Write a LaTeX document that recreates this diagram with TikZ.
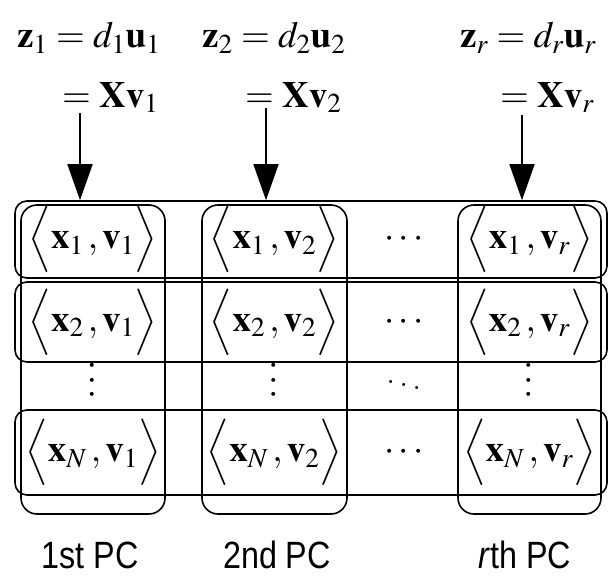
\documentclass[tikz,border=0pt]{standalone}
\usepackage{mathptmx}
\usepackage[no-math]{fontspec}
\usepackage{graphicx}
\usetikzlibrary{arrows.meta, positioning}
\newfontfamily\pcfont{Liberation Sans}
\newcommand{\cellip}[2]{$\left\langle\vphantom{\rule[-17pt]{0pt}{44pt}}\mathbf{x}_{#1}\,,\mathbf{v}_{#2}\right\rangle$}

\begin{document}
\begin{tikzpicture}[
    x=1pt, y=-1pt,
    every node/.style={font=\fontsize{37}{40}\selectfont, inner sep=0pt},
    rowbox/.style={rectangle, draw, line width=1.6pt, rounded corners=12pt,
                   minimum width=592pt},
    colbox/.style={rectangle, draw, line width=1.6pt, rounded corners=16pt,
                   minimum height=309pt},
    eqn/.style={anchor=base west},
    pclabel/.style={anchor=base, font=\fontsize{38}{40}\pcfont},
    arr/.style={-{Triangle[length=36pt, width=25pt]}, line width=1.6pt}
]
    \useasboundingbox (0,0) rectangle (615,575);

    % rows
    \node[rowbox, minimum height=77pt] (row1) at (311,239.5) {};
    \node[rowbox, minimum height=80pt] (row2) at (311,322) {};
    \node[rowbox, minimum height=85pt] (rowN) at (311,452.5) {};

    % columns
    \node[colbox, minimum width=144pt] (col1) at (93,359.5) {};
    \node[colbox, minimum width=145pt] (col2) at (274.5,359.5) {};
    \node[colbox, minimum width=143pt] (colr) at (529.5,359.5) {};

    % inner products
    \node (c11) at (col1 |- row1) {\cellip{1}{1}};
    \node (c12) at (col2 |- row1) {\cellip{1}{2}};
    \node (c1r) at (colr |- row1) {\cellip{1}{r}};
    \node (c21) at (col1 |- row2) {\cellip{2}{1}};
    \node (c22) at (col2 |- row2) {\cellip{2}{2}};
    \node (c2r) at (colr |- row2) {\cellip{2}{r}};
    \node (cN1) at (col1 |- rowN) {\cellip{N}{1}};
    \node (cN2) at (col2 |- rowN) {\cellip{N}{2}};
    \node (cNr) at (colr |- rowN) {\cellip{N}{r}};

    \node (h1) at (404,239.5) {$\cdots$};
    \node (h2) at (404,322) {$\cdots$};
    \node (hN) at (404,452.5) {$\cdots$};
    \node (v1) at (col1 |- 0,380) {\rotatebox{90}{$\cdots$}};
    \node (v2) at (col2 |- 0,380) {\rotatebox{90}{$\cdots$}};
    \node (vr) at (colr |- 0,380) {\rotatebox{90}{$\cdots$}};
    \node (dd) at (404,382) {$\ddots$};

    % scores
    \node[eqn] (z1) at (17,48) {$\mathbf{z}_1 = d_1\mathbf{u}_1$};
    \node[eqn] (xv1) at (62,107) {${=}\;\mathbf{X}\mathbf{v}_1$};
    \node[eqn] (z2) at (202,48) {$\mathbf{z}_2 = d_2\mathbf{u}_2$};
    \node[eqn] (xv2) at (245,107) {${=}\;\mathbf{X}\mathbf{v}_2$};
    \node[eqn] (zr) at (460,48) {$\mathbf{z}_r = d_r\mathbf{u}_r$};
    \node[eqn] (xvr) at (500,107) {${=}\;\mathbf{X}\mathbf{v}_r$};

    \coordinate (s1) at (80,113);
    \coordinate (s2) at (266,108);
    \coordinate (sr) at (522,115);
    \draw[arr] (s1) -- (s1 |- row1.north);
    \draw[arr] (s2) -- (s2 |- row1.north);
    \draw[arr] (sr) -- (sr |- row1.north);

    % labels
    \node[pclabel] (pc1) at (90,568) {\scalebox{0.85}[1]{1st PC}};
    \node[pclabel] (pc2) at (277,568) {\scalebox{0.85}[1]{2nd PC}};
    \node[pclabel] (pcr) at (525,568) {\scalebox{0.85}[1]{\textit{r}th PC}};
\end{tikzpicture}
\end{document}
